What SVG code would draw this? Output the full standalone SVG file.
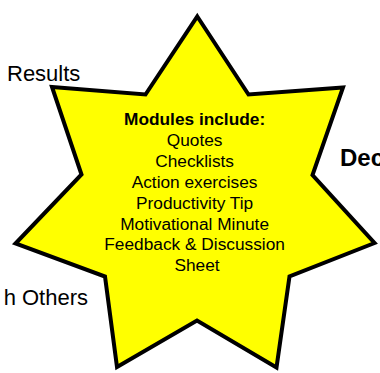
<svg xmlns="http://www.w3.org/2000/svg" width="380" height="373" viewBox="0 0 380 373">
  <style>
    .lbl { font-family: "Liberation Sans", Arial, sans-serif; fill: #000; }
    .side { font-size: 22px; }
    .dec { font-size: 24px; font-weight: bold; }
    .star { fill: #FFFF00; stroke: #000; stroke-width: 4; stroke-linejoin: miter; stroke-miterlimit: 10; }
    .body { font-size: 17.3px; text-anchor: middle; }
    .hd { font-weight: bold; }
  </style>
  <rect width="380" height="373" fill="#fff"/>
  <g id="label-results">
    <text class="lbl side" x="7" y="81">Results</text>
  </g>
  <g id="label-others">
    <text class="lbl side" x="88" y="305" text-anchor="end">h Others</text>
  </g>
  <g id="label-dec">
    <text class="lbl dec" x="340" y="166">Dec</text>
  </g>
  <g id="connectors"></g>
  <g id="modules-star">
    <polygon class="star" points="197.3,16.5 248.5,94.5 343,87.5 312.5,175 374.5,243 289.5,276.5 276.5,367.5 197,320.5 117,367 105,276.5 15.5,243.5 81.5,174.5 52,87 145.5,94.5"/>
    <text class="lbl body" x="197" y="125">
      <tspan class="hd" x="197" y="125">Modules include:</tspan>
      <tspan x="197" y="145.9">Quotes</tspan>
      <tspan x="197" y="166.8">Checklists</tspan>
      <tspan x="197" y="187.7">Action exercises</tspan>
      <tspan x="197" y="208.6">Productivity Tip</tspan>
      <tspan x="197" y="229.5">Motivational Minute</tspan>
      <tspan x="197" y="250.4">Feedback &amp; Discussion</tspan>
      <tspan x="197" y="271.3">Sheet</tspan>
    </text>
  </g>
</svg>
